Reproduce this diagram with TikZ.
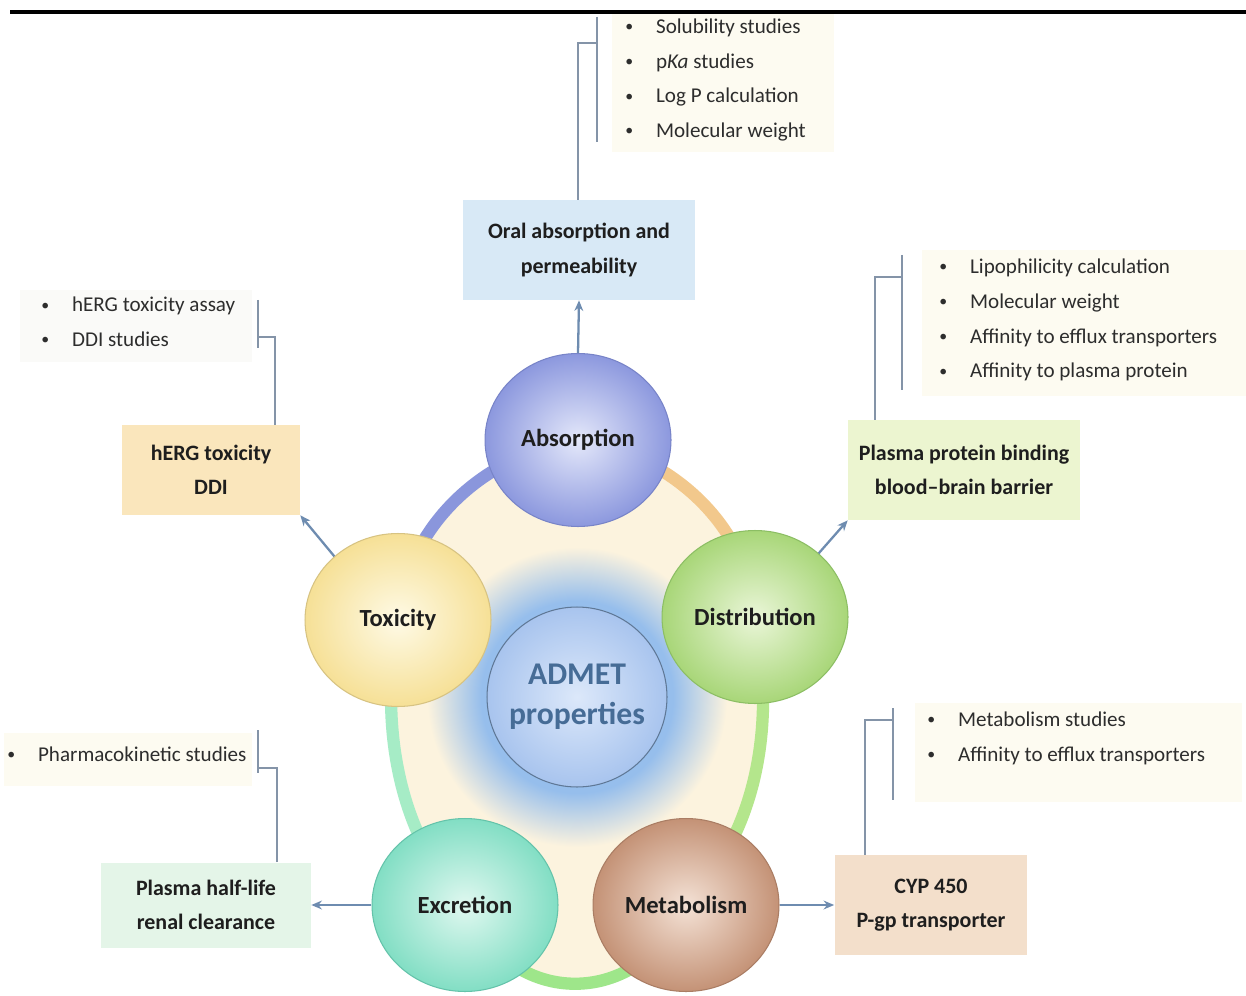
\documentclass[tikz,border=0pt]{standalone}
\usepackage{fontspec}
\setmainfont{Carlito}
\usetikzlibrary{shapes.geometric,arrows.meta}
\definecolor{cream}{RGB}{252,243,222}
\definecolor{glowblue}{RGB}{150,190,236}
\definecolor{ringblue}{RGB}{138,150,220}
\definecolor{ringorange}{RGB}{242,200,140}
\definecolor{ringlgreen}{RGB}{180,230,140}
\definecolor{ringgreen}{RGB}{158,230,138}
\definecolor{ringteal}{RGB}{166,236,198}
\definecolor{absO}{RGB}{140,152,222}\definecolor{absI}{RGB}{228,232,250}\definecolor{absD}{RGB}{120,132,200}
\definecolor{toxO}{RGB}{246,224,150}\definecolor{toxI}{RGB}{254,250,230}\definecolor{toxD}{RGB}{215,195,130}
\definecolor{distO}{RGB}{168,214,120}\definecolor{distI}{RGB}{234,246,216}\definecolor{distD}{RGB}{140,190,100}
\definecolor{excO}{RGB}{130,222,196}\definecolor{excI}{RGB}{224,248,240}\definecolor{excD}{RGB}{100,195,170}
\definecolor{metO}{RGB}{196,146,118}\definecolor{metI}{RGB}{244,226,214}\definecolor{metD}{RGB}{170,125,100}
\definecolor{txt}{RGB}{30,30,30}
\definecolor{listtxt}{RGB}{45,45,45}
\definecolor{arrowc}{RGB}{110,140,176}
\definecolor{brackc}{RGB}{132,148,168}
\definecolor{admetc}{RGB}{70,108,150}
\definecolor{oralF}{RGB}{216,233,246}
\definecolor{hergF}{RGB}{250,230,188}
\definecolor{ppbF}{RGB}{236,245,208}
\definecolor{hlF}{RGB}{228,245,232}
\definecolor{cypF}{RGB}{243,223,203}
\definecolor{listbg}{RGB}{253,251,241}
\pgfdeclareradialshading{glow}{\pgfpoint{0bp}{0bp}}{color(0bp)=(glowblue!60!white); color(13bp)=(glowblue); color(16bp)=(glowblue); color(25bp)=(cream); color(50bp)=(cream)}
\begin{document}
\begin{tikzpicture}[x=0.02cm,y=-0.02cm,
  circ/.style={ellipse, minimum width=3.72cm, minimum height=3.46cm, inner sep=0pt, line width=0.6pt,
    font=\fontsize{14}{16}\selectfont\bfseries, text=txt},
  infobox/.style={rectangle, inner sep=0pt, align=center, text=txt,
    font=\fontsize{12.5}{19.5}\selectfont\bfseries},
  listnode/.style={anchor=west, inner sep=0pt, align=left, text=listtxt,
    font=\fontsize{12}{19.8}\selectfont},
  arrowline/.style={draw=arrowc, line width=1.3pt, -{Stealth[length=6pt,width=5pt]}},
  bracket/.style={draw=brackc, line width=1.1pt},
  ringseg/.style={line width=7pt},
  listbgstyle/.style={fill=listbg, draw=none}
]
\newcommand{\bul}[1]{\makebox[17.5pt][l]{\raisebox{1pt}{\fontsize{9}{9}\selectfont\textbullet}}#1}
\useasboundingbox (0,0) rectangle (1246,996);
\fill[white] (0,0) rectangle (1246,996);
% top bar
\draw[line width=2.8pt, black] (10,12) -- (1246,12);

% centres
\coordinate (cA) at (578,440);
\coordinate (cD) at (755,617);
\coordinate (cM) at (686,905);
\coordinate (cE) at (465,905);
\coordinate (cT) at (398,620);
\coordinate (cC) at (577,697);

% interior fill
\fill[cream] (cT) .. controls (405,530) and (480,455) .. (cA)
  .. controls (675,455) and (750,530) .. (cD)
  .. controls (775,720) and (760,830) .. (cM)
  .. controls (640,1010) and (510,1010) .. (cE)
  .. controls (395,830) and (380,720) .. (cT) -- cycle;
% ring segments
\draw[ringseg, ringblue] (cT) .. controls (405,530) and (480,455) .. (cA);
\draw[ringseg, ringorange] (cA) .. controls (675,455) and (750,530) .. (cD);
\draw[ringseg, ringlgreen] (cD) .. controls (775,720) and (760,830) .. (cM);
\draw[ringseg, ringgreen] (cM) .. controls (640,1010) and (510,1010) .. (cE);
\draw[ringseg, ringteal] (cE) .. controls (395,830) and (380,720) .. (cT);

% glow and centre
\shade[shading=glow] (cC) circle (150);
\node[circle, minimum size=3.6cm, inner sep=0pt, shade, inner color={rgb,255:red,220;green,232;blue,250},
  outer color={rgb,255:red,168;green,196;blue,238}, draw={rgb,255:red,95;green,120;blue,150}, line width=0.6pt,
  align=center, text=admetc, font=\fontsize{18}{23}\selectfont\bfseries] (admet) at (cC) {ADMET\\properties};

% list backgrounds
\fill[listbgstyle] (612,14) rectangle (834,152);
\fill[listbgstyle] (922,250) rectangle (1246,396);
\fill[listbgstyle, fill={rgb,255:red,250;green,250;blue,248}] (20,290) rectangle (252,362);
\fill[listbgstyle] (4,733) rectangle (252,786);
\fill[listbgstyle] (915,703) rectangle (1242,802);

% info boxes
\node[infobox, fill=oralF, minimum width=4.64cm, minimum height=2cm] (oral) at (579,250) {Oral absorption and\\permeability};
\node[infobox, fill=hergF, minimum width=3.56cm, minimum height=1.8cm] (herg) at (211,470) {hERG toxicity\\DDI};
\node[infobox, fill=ppbF, minimum width=4.64cm, minimum height=2cm] (ppb) at (964,470) {Plasma protein binding\\blood--brain barrier};
\node[infobox, fill=hlF, minimum width=4.2cm, minimum height=1.7cm] (hl) at (206,905) {Plasma half-life\\renal clearance};
\node[infobox, fill=cypF, minimum width=3.86cm, minimum height=2cm] (cyp) at (931,905) {CYP 450\\P-gp transporter};

% lists
\node[listnode] (labs) at (625,80) {\bul{Solubility studies}\\\bul{p\textit{Ka} studies}\\\bul{Log P calculation}\\\bul{Molecular weight}};
\node[listnode] (ldist) at (939,320) {\bul{Lipophilicity calculation}\\\bul{Molecular weight}\\\bul{Affinity to efflux transporters}\\\bul{Affinity to plasma protein}};
\node[listnode] (ltox) at (41,322) {\bul{hERG toxicity assay}\\\bul{DDI studies}};
\node[listnode] (lexc) at (7,754) {\bul{Pharmacokinetic studies}};
\node[listnode] (lmet) at (927,738) {\bul{Metabolism studies}\\\bul{Affinity to efflux transporters}};

% brackets
\coordinate (eA) at (578,43); \coordinate (jA) at (597,43);
\coordinate (bA1) at (597,17); \coordinate (bA2) at (597,142);
\draw[bracket] (eA |- oral.north) -- (eA) -- (jA);
\draw[bracket] (bA1) -- (bA2);

\coordinate (eT) at (275,337); \coordinate (jT) at (258,337);
\coordinate (bT1) at (258,300); \coordinate (bT2) at (258,348);
\draw[bracket] (eT |- herg.north) -- (eT) -- (jT);
\draw[bracket] (bT1) -- (bT2);

\coordinate (eD) at (875,277); \coordinate (jD) at (902,277);
\coordinate (bD1) at (902,255); \coordinate (bD2) at (902,390);
\draw[bracket] (eD |- ppb.north) -- (eD) -- (jD);
\draw[bracket] (bD1) -- (bD2);

\coordinate (eE) at (277,768); \coordinate (jE) at (258,768);
\coordinate (bE1) at (258,730); \coordinate (bE2) at (258,773);
\draw[bracket] (eE |- hl.north) -- (eE) -- (jE);
\draw[bracket] (bE1) -- (bE2);

\coordinate (eM) at (865,720); \coordinate (jM) at (893,720);
\coordinate (bM1) at (893,708); \coordinate (bM2) at (893,800);
\draw[bracket] (eM |- cyp.north) -- (eM) -- (jM);
\draw[bracket] (bM1) -- (bM2);

% circles
\node[circ, shade, inner color=absI, outer color=absO, draw=absD] (abs) at (cA) {Absorption};
\node[circ, shade, inner color=toxI, outer color=toxO, draw=toxD] (tox) at (cT) {Toxicity};
\node[circ, shade, inner color=distI, outer color=distO, draw=distD] (dist) at (cD) {Distribution};
\node[circ, shade, inner color=excI, outer color=excO, draw=excD] (exc) at (cE) {Excretion};
\node[circ, shade, inner color=metI, outer color=metO, draw=metD] (met) at (cM) {Metabolism};

% arrows
\draw[arrowline] (abs.north) -- (oral.south);
\draw[arrowline] (tox.135) -- (herg.south east);
\draw[arrowline] (dist.45) -- (ppb.south west);
\draw[arrowline] (exc.west) -- (hl.east);
\draw[arrowline] (met.east) -- (cyp.west);
\end{tikzpicture}
\end{document}
